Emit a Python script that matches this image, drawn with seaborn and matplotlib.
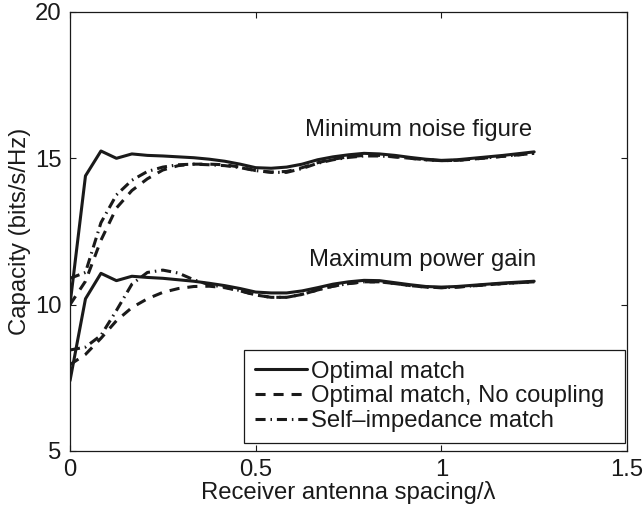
import numpy as np
import pandas as pd
import matplotlib
matplotlib.use("Agg")
import matplotlib.pyplot as plt
import seaborn as sns

# Receiver antenna spacing in wavelengths (step of lambda/24)
spacing = [i / 24 for i in range(31)]

# Capacity (bits/s/Hz), minimum-noise-figure amplifier design
mnf_optimal = [10.0, 14.4, 15.25, 15.0, 15.15, 15.1, 15.08, 15.05, 15.02, 14.97,
               14.9, 14.8, 14.68, 14.66, 14.7, 14.8, 14.95, 15.05, 15.12, 15.17,
               15.15, 15.1, 15.03, 14.97, 14.93, 14.95, 15.0, 15.05, 15.1, 15.16, 15.22]
mnf_no_coupling = [10.0, 10.8, 12.2, 13.3, 13.9, 14.3, 14.6, 14.75, 14.8, 14.8,
                   14.78, 14.7, 14.58, 14.53, 14.55, 14.68, 14.85, 14.97, 15.05, 15.1,
                   15.1, 15.05, 15.0, 14.95, 14.92, 14.93, 14.97, 15.02, 15.07, 15.12, 15.17]
mnf_self = [10.9, 11.1, 12.8, 13.75, 14.25, 14.55, 14.7, 14.78, 14.8, 14.78,
            14.75, 14.68, 14.58, 14.52, 14.52, 14.65, 14.83, 14.95, 15.03, 15.08,
            15.08, 15.05, 15.0, 14.95, 14.92, 14.93, 14.97, 15.02, 15.07, 15.12, 15.17]

# Capacity (bits/s/Hz), maximum-power-gain amplifier design
mpg_optimal = [7.4, 10.2, 11.07, 10.82, 10.97, 10.93, 10.9, 10.85, 10.8, 10.73,
               10.65, 10.55, 10.43, 10.4, 10.4, 10.47, 10.58, 10.7, 10.78, 10.83,
               10.82, 10.75, 10.68, 10.62, 10.6, 10.62, 10.66, 10.7, 10.74, 10.77, 10.8]
mpg_no_coupling = [7.95, 8.3, 8.85, 9.45, 9.9, 10.2, 10.42, 10.55, 10.62, 10.63,
                   10.58, 10.47, 10.33, 10.25, 10.25, 10.35, 10.5, 10.63, 10.72, 10.78,
                   10.78, 10.72, 10.65, 10.6, 10.58, 10.6, 10.64, 10.68, 10.72, 10.75, 10.78]
mpg_self = [8.45, 8.55, 8.95, 9.8, 10.7, 11.1, 11.18, 11.08, 10.85, 10.68,
            10.6, 10.48, 10.33, 10.25, 10.25, 10.35, 10.5, 10.63, 10.72, 10.78,
            10.78, 10.72, 10.65, 10.6, 10.58, 10.6, 10.64, 10.68, 10.72, 10.75, 10.78]

schemes = ["Optimal match", "Optimal match, No coupling", "Self\u2013impedance match"]
regimes = ["Minimum noise figure", "Maximum power gain"]

x_ticks = [0, 0.5, 1, 1.5]
x_tick_labels = ["0", "0.5", "1", "1.5"]
y_ticks = [5, 10, 15, 20]
y_tick_labels = ["5", "10", "15", "20"]

series = {
    (regimes[0], schemes[0]): mnf_optimal,
    (regimes[0], schemes[1]): mnf_no_coupling,
    (regimes[0], schemes[2]): mnf_self,
    (regimes[1], schemes[0]): mpg_optimal,
    (regimes[1], schemes[1]): mpg_no_coupling,
    (regimes[1], schemes[2]): mpg_self,
}
frames = []
for (regime, scheme), vals in series.items():
    frames.append(pd.DataFrame({"spacing": spacing, "capacity": vals,
                                "scheme": scheme, "regime": regime}))
df = pd.concat(frames, ignore_index=True)

sns.set_theme(style="ticks")
plt.rcParams["font.family"] = ["Liberation Sans", "DejaVu Sans"]
FS = 17.2
ink = "#1a1a1a"

fig = plt.figure(figsize=(6.44, 5.14), dpi=100)
ax = fig.add_axes([0.1087, 0.1226, 0.8649, 0.8541])

LW = 2.2
dash_styles = {
    schemes[0]: "",
    schemes[1]: (3.3, 2.6),
    schemes[2]: (3.3, 1.6, 0.5, 1.6),
}
sns.lineplot(data=df, x="spacing", y="capacity", style="scheme",
             style_order=schemes, units="regime", estimator=None,
             dashes=dash_styles, color=ink, linewidth=LW, ax=ax)

ax.set_xlim(0, 1.5)
ax.set_ylim(5, 20)
ax.set_xticks(x_ticks)
ax.set_xticklabels(x_tick_labels)
ax.set_yticks(y_ticks)
ax.set_yticklabels(y_tick_labels)
ax.tick_params(direction="in", length=4.5, width=0.8, colors=ink,
               labelsize=FS, top=True, right=True, pad=6)
for sp in ax.spines.values():
    sp.set_visible(True)
    sp.set_color(ink)
    sp.set_linewidth(0.9)

ax.set_xlabel("Receiver antenna spacing/\u03bb", fontsize=FS, color=ink, labelpad=0)
ax.set_ylabel("Capacity (bits/s/Hz)", fontsize=FS, color=ink, labelpad=3)

ax.text(1.245, 15.97, regimes[0], ha="right", va="center", fontsize=FS, color=ink)
ax.text(1.255, 11.53, regimes[1], ha="right", va="center", fontsize=FS, color=ink)

handles, labels = ax.get_legend_handles_labels()
pairs = [(h, l) for h, l in zip(handles, labels) if l in schemes]
leg = ax.legend([p[0] for p in pairs], [p[1] for p in pairs],
                loc="lower left", bbox_to_anchor=(0.3124, 0.0182, 0.684, 0.2),
                mode="expand", borderaxespad=0,
                fontsize=FS, frameon=True, fancybox=False,
                edgecolor=ink, framealpha=1, handlelength=2.2, handletextpad=0.15,
                labelspacing=0.12, borderpad=0.45)
leg.get_frame().set_linewidth(0.9)
for t in leg.get_texts():
    t.set_color(ink)

fig.savefig("out.png", dpi=100)
